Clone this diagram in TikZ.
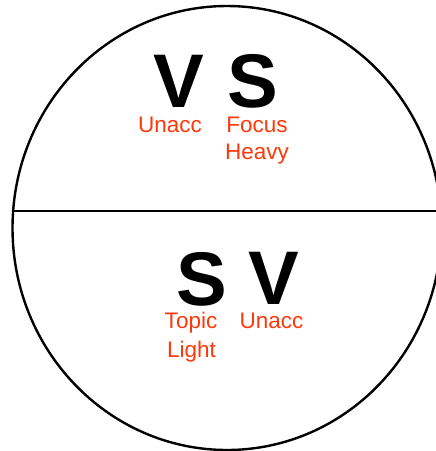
\documentclass[tikz,border=0pt]{standalone}
\usepackage{fontspec}
\setmainfont{Liberation Sans}
\definecolor{lab}{RGB}{255,56,10}
\begin{document}
\begin{tikzpicture}[x=1pt,y=-1pt,
  big/.style={inner sep=0pt,anchor=base,font=\fontsize{76}{80}\selectfont\bfseries},
  lbl/.style={inner sep=0pt,anchor=base,text=lab,font=\fontsize{22.5}{27}\selectfont},
  outline/.style={draw=black,line width=2.4pt}]
\useasboundingbox (0,0) rectangle (436,451);
\clip (0,0) rectangle (436,451);
\draw[outline] (227,228) ellipse [x radius=214.5, y radius=222];
\coordinate (L) at (12.6,211);
\coordinate (R) at (440,211);
\draw[outline] (L) -- (R);
\node[big] (v1) at (178.5,107) {V};
\node[big] (s1) at (253,107) {S};
\node[big] (s2) at (201.5,305) {S};
\node[big] (v2) at (274,304) {V};
\node[lbl] (u1) at (170,132) {Unacc};
\node[lbl] (f1) at (257,132) {Focus};
\node[lbl] (h1) at (257,159) {Heavy};
\node[lbl] (t2) at (191,328) {Topic};
\node[lbl] (l2) at (191.5,357) {Light};
\node[lbl] (u2) at (271.5,328) {Unacc};
\end{tikzpicture}
\end{document}
